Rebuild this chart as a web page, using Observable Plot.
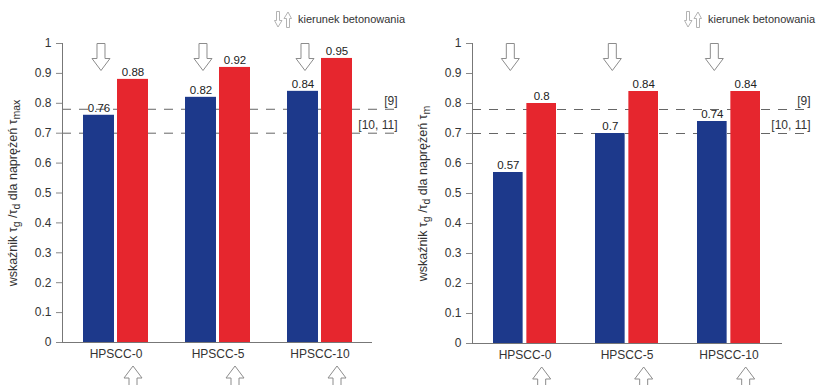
<!DOCTYPE html>
<html><head><meta charset="utf-8">
<script src="https://cdn.jsdelivr.net/npm/d3@7"></script>
<script src="https://cdn.jsdelivr.net/npm/@observablehq/plot@0.6"></script>
<style>
html,body{margin:0;padding:0;background:#fff;overflow:hidden}
#wrap{position:relative;width:816px;height:385px;display:flex;font-family:"Liberation Sans",Arial,sans-serif}
.panel{position:relative;width:408px;height:385px}
.legend{position:absolute;top:10px;height:18px;white-space:nowrap;font-size:11px;color:#333;display:flex;align-items:center;gap:2px;z-index:2}
.legend svg{display:block}
.panel .chart{position:absolute;top:30px;left:0}
</style></head><body><div id="wrap"></div>
<script>
// ---- data ----
const categories = ["HPSCC-0", "HPSCC-5", "HPSCC-10"];
const blueMax = [0.76, 0.82, 0.84];
const redMax = [0.88, 0.92, 0.95];
const blueM = [0.57, 0.70, 0.74];
const redM = [0.80, 0.84, 0.84];
const refValues = [0.78, 0.70];
const refLabels = ["[9]", "[10, 11]"];
const yTicks = [0, 0.1, 0.2, 0.3, 0.4, 0.5, 0.6, 0.7, 0.8, 0.9, 1];
const legendText = "kierunek betonowania";
const labelLeftParts = [["wskaźnik τ", false], ["g", true], [" /τ", false], ["d", true], [" dla naprężeń τ", false], ["max", true]];
const labelRightParts = [["wskaźnik τ", false], ["g", true], [" /τ", false], ["d", true], [" dla naprężeń τ", false], ["m", true]];

const BLUE = "#1d398b";
const RED = "#e6262e";
const FONT = "'Liberation Sans', Arial, sans-serif";

function arrowSymbol(dir) {
  const h = 27, hh = 12, hw = 9, sw = 4;
  return {
    draw(ctx) {
      const s = dir === "down" ? 1 : -1;
      ctx.moveTo(-sw, -s * h / 2);
      ctx.lineTo(sw, -s * h / 2);
      ctx.lineTo(sw, s * (h / 2 - hh));
      ctx.lineTo(hw, s * (h / 2 - hh));
      ctx.lineTo(0, s * h / 2);
      ctx.lineTo(-hw, s * (h / 2 - hh));
      ctx.lineTo(-sw, s * (h / 2 - hh));
      ctx.closePath();
    }
  };
}

function legendIcons() {
  return `<svg width="18" height="17" viewBox="0 0 18 17">
    <path d="M2.5,0.5 H5.5 V9.5 H8 L4,16 L0.5,9.5 H2.5 Z" fill="#fff" stroke="#aaa" stroke-width="0.9"/>
    <path d="M12.5,16.5 H15.5 V7.5 H17.5 L14,1 L10,7.5 H12.5 Z" fill="#fff" stroke="#aaa" stroke-width="0.9"/>
  </svg>`;
}

function makePanel(blue, red, labelParts, g) {
  const panel = document.createElement("div");
  panel.className = "panel";
  const leg = document.createElement("div");
  leg.className = "legend";
  leg.style.left = g.legendLeft + "px";
  leg.innerHTML = legendIcons() + `<span style="margin-left:4px">${legendText}</span>`;
  panel.appendChild(leg);

  const blueRows = categories.map((c, i) => ({cat: c, v: blue[i]}));
  const redRows = categories.map((c, i) => ({cat: c, v: red[i]}));
  const refs = refValues.map((v, i) => ({v, label: refLabels[i]}));

  const W = 408, H = 355;
  const inner = W - g.ml - g.mr;
  const step = inner / (categories.length - g.pi + 2 * g.po);
  const bw = step * (1 - g.pi);
  const inset = bw / 2 + g.gap / 2;
  const off = bw / 4 + g.gap / 4;
  const labelStr = labelParts.map(d => d[0]).join("");

  const chart = Plot.plot({
    width: W, height: H,
    marginLeft: g.ml, marginRight: g.mr, marginTop: 13, marginBottom: g.mb,
    style: {fontFamily: FONT, fontSize: "12px", color: "#333", background: "transparent", overflow: "visible"},
    x: {domain: categories, paddingInner: g.pi, paddingOuter: g.po, label: null},
    y: {domain: [0, 1], label: null},
    marks: [
      Plot.ruleY(refs, {y: "v", stroke: "#666", strokeWidth: 1, strokeDasharray: "9,8", insetRight: -g.ext}),
      Plot.text(refs, {y: "v", text: "label", frameAnchor: "right", textAnchor: "end", dx: g.ext, dy: -8, fontSize: 12, fill: "#333"}),
      Plot.barY(blueRows, {x: "cat", y: "v", fill: BLUE, insetLeft: 0, insetRight: inset}),
      Plot.barY(redRows, {x: "cat", y: "v", fill: RED, insetLeft: inset, insetRight: 0}),
      Plot.text(blueRows, {x: "cat", y: "v", text: d => String(d.v), dx: -off, dy: -7, fontSize: 11.5, fill: "#222"}),
      Plot.text(redRows, {x: "cat", y: "v", text: d => String(d.v), dx: off, dy: -7, fontSize: 11.5, fill: "#222"}),
      Plot.ruleY([0], {stroke: "#777"}),
      Plot.frame({anchor: "left", stroke: "#777"}),
      Plot.axisY({ticks: yTicks, tickFormat: d => String(d), tickSize: 6, tickPadding: 5, stroke: "#888",
        label: labelStr, labelAnchor: "center", labelOffset: 54, labelArrow: "none"}),
      Plot.axisX({tickSize: 0, tickPadding: 7, label: null}),
      Plot.dot(categories, {x: d => d, frameAnchor: "top", dy: 13.5, dx: -off + 2, symbol: arrowSymbol("down"), fill: "white", stroke: "#8c8c8c", strokeWidth: 1}),
      Plot.dot(categories, {x: d => d, frameAnchor: "bottom", dy: 37, dx: off, symbol: arrowSymbol("up"), fill: "white", stroke: "#8c8c8c", strokeWidth: 1})
    ]
  });
  chart.classList.add("chart");

  // subscripts in the y-axis label
  const lab = chart.querySelector('[aria-label="y-axis label"] text');
  if (lab) {
    lab.textContent = "";
    lab.setAttribute("font-size", "12.5");
    let shifted = false;
    for (const [t, sub] of labelParts) {
      const ts = document.createElementNS("http://www.w3.org/2000/svg", "tspan");
      ts.textContent = t;
      if (sub && !shifted) { ts.setAttribute("dy", "3"); ts.setAttribute("font-size", "10.5"); shifted = true; }
      else if (sub) { ts.setAttribute("font-size", "10.5"); }
      else if (!sub && shifted) { ts.setAttribute("dy", "-3"); shifted = false; }
      lab.appendChild(ts);
    }
  }
  panel.appendChild(chart);
  return panel;
}

const wrap = document.getElementById("wrap");
wrap.appendChild(makePanel(blueMax, redMax, labelLeftParts,
  {ml: 62, mr: 36, mb: 43, pi: 0.363, po: 0.2, gap: 3, ext: 25, legendLeft: 274}));
wrap.appendChild(makePanel(blueM, redM, labelRightParts,
  {ml: 64, mr: 34, mb: 42, pi: 0.379, po: 0.2, gap: 3, ext: 28, legendLeft: 276}));
</script></body></html>
